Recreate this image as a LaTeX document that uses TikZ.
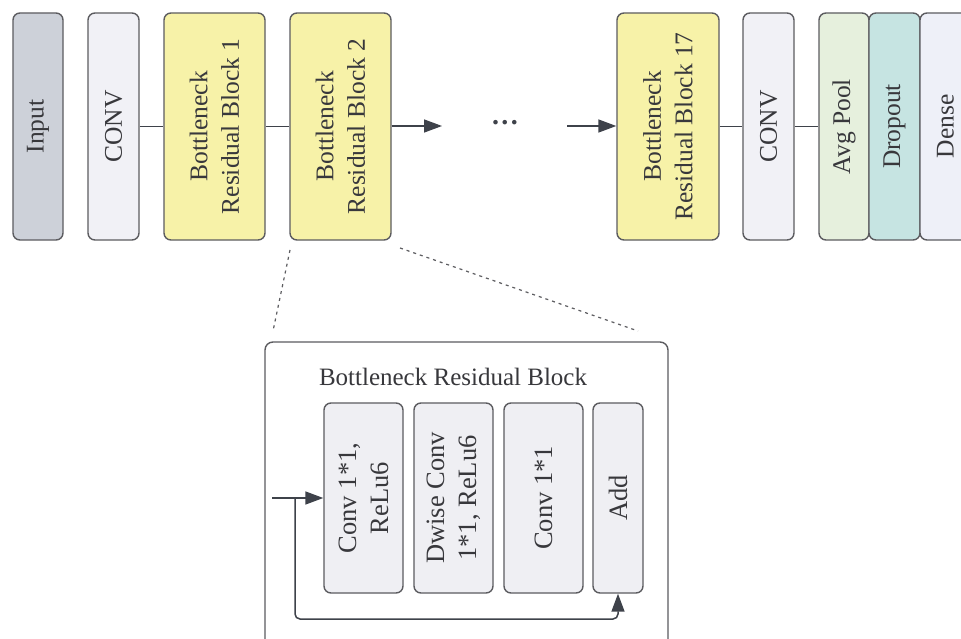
\documentclass[tikz,border=0pt]{standalone}
\usepackage{fontspec}
\setmainfont{Liberation Serif}
\usetikzlibrary{arrows.meta}
\definecolor{edge}{HTML}{5C5C60}
\definecolor{wire}{HTML}{3E424A}
\definecolor{ink}{HTML}{38383C}
\definecolor{greyfill}{HTML}{CDD1D9}
\definecolor{lavfill}{HTML}{F1F1F6}
\definecolor{yellowfill}{HTML}{F7F2A8}
\definecolor{greenfill}{HTML}{E6F0DD}
\definecolor{tealfill}{HTML}{C6E4E2}
\definecolor{densefill}{HTML}{EEF0F8}
\definecolor{innerfill}{HTML}{EFEFF3}
\begin{document}
\begin{tikzpicture}[x=1pt,y=-1pt,
  layer/.style={draw=edge, line width=1.4pt, rounded corners=7pt, rotate=90,
    text=ink, align=center, inner sep=0pt,
    font=\fontsize{25.5}{31.5}\selectfont},
  toplayer/.style={layer, minimum width=227pt},
  innerlayer/.style={layer, minimum width=190pt, fill=innerfill,
    font=\fontsize{26.5}{32}\selectfont},
  link/.style={draw=wire, line width=1.5pt},
  arrowlink/.style={link, -{Triangle[length=18pt,width=13pt]}},
  zoomline/.style={draw=edge, line width=1.2pt, dash pattern=on 3pt off 4pt}]
\useasboundingbox (0,0) rectangle (961,639);
\clip (0,0) rectangle (961,639);
\fill[white] (0,0) rectangle (961,639);

% main network
\node[toplayer, minimum height=50pt, fill=greyfill] (inp) at (38,126.5) {Input};
\node[toplayer, minimum height=51pt, fill=lavfill] (conva) at (113.5,126.5) {CONV};
\node[toplayer, minimum height=101pt, fill=yellowfill] (b1) at (214.5,126.5) {Bottleneck\\Residual Block 1};
\node[toplayer, minimum height=101pt, fill=yellowfill] (b2) at (340.5,126.5) {Bottleneck\\Residual Block 2};
\node[text=wire, font=\bfseries\fontsize{28}{30}\selectfont, inner sep=0pt] (dots) at (505,123) {.\kern2.5pt.\kern2.5pt.};
\node[toplayer, minimum height=102pt, fill=yellowfill] (b17) at (668,126.5) {Bottleneck\\Residual Block 17};
\node[toplayer, minimum height=51pt, fill=lavfill] (convb) at (768.5,126.5) {CONV};
\node[toplayer, minimum height=50pt, fill=greenfill] (pool) at (844,126.5) {Avg Pool};
\node[toplayer, minimum height=51pt, fill=tealfill] (drop) at (894.5,126.5) {Dropout};
\node[toplayer, minimum height=51pt, fill=densefill] (dense) at (945.5,126.5) {Dense};

\coordinate (gapin) at (442,126);
\coordinate (gapout) at (567,126);
\path[link] (conva) -- (b1);
\path[link] (b1) -- (b2);
\path[arrowlink] (b2.south |- gapin) -- (gapin);
\path[arrowlink] (gapout) -- (b17.north |- gapout);
\path[link] (b17) -- (convb);
\path[link] (convb) -- (pool);

% expanded view of one block
\coordinate (zl1) at (290,250);
\coordinate (zl2) at (273,331);
\coordinate (zr1) at (400,248);
\coordinate (zr2) at (638,331);
\path[zoomline] (zl1) -- (zl2);
\path[zoomline] (zr1) -- (zr2);

\node[draw=edge, line width=1.4pt, rounded corners=8pt, minimum width=403pt,
  minimum height=360pt, inner sep=0pt, fill=white] (frame) at (466.5,522) {};
\node[text=ink, font=\fontsize{25}{31}\selectfont, inner sep=0pt] (title) at (453,377) {Bottleneck Residual Block};

\node[innerlayer, minimum height=79pt] (c1) at (363.5,498) {Conv 1*1,\\ReLu6};
\node[innerlayer, minimum height=79pt] (dw) at (453.5,498) {Dwise Conv\\1*1, ReLu6};
\node[innerlayer, minimum height=79pt] (c3) at (543.5,498) {Conv 1*1};
\node[innerlayer, minimum height=50pt] (add) at (618,498) {Add};

\coordinate (entry) at (272,498);
\coordinate (split) at (295,498);
\coordinate (turn) at (618,619);
\path[arrowlink] (entry) -- (c1);
\path[arrowlink, rounded corners=5pt] (split) |- (turn) -- (add);
\end{tikzpicture}
\end{document}
